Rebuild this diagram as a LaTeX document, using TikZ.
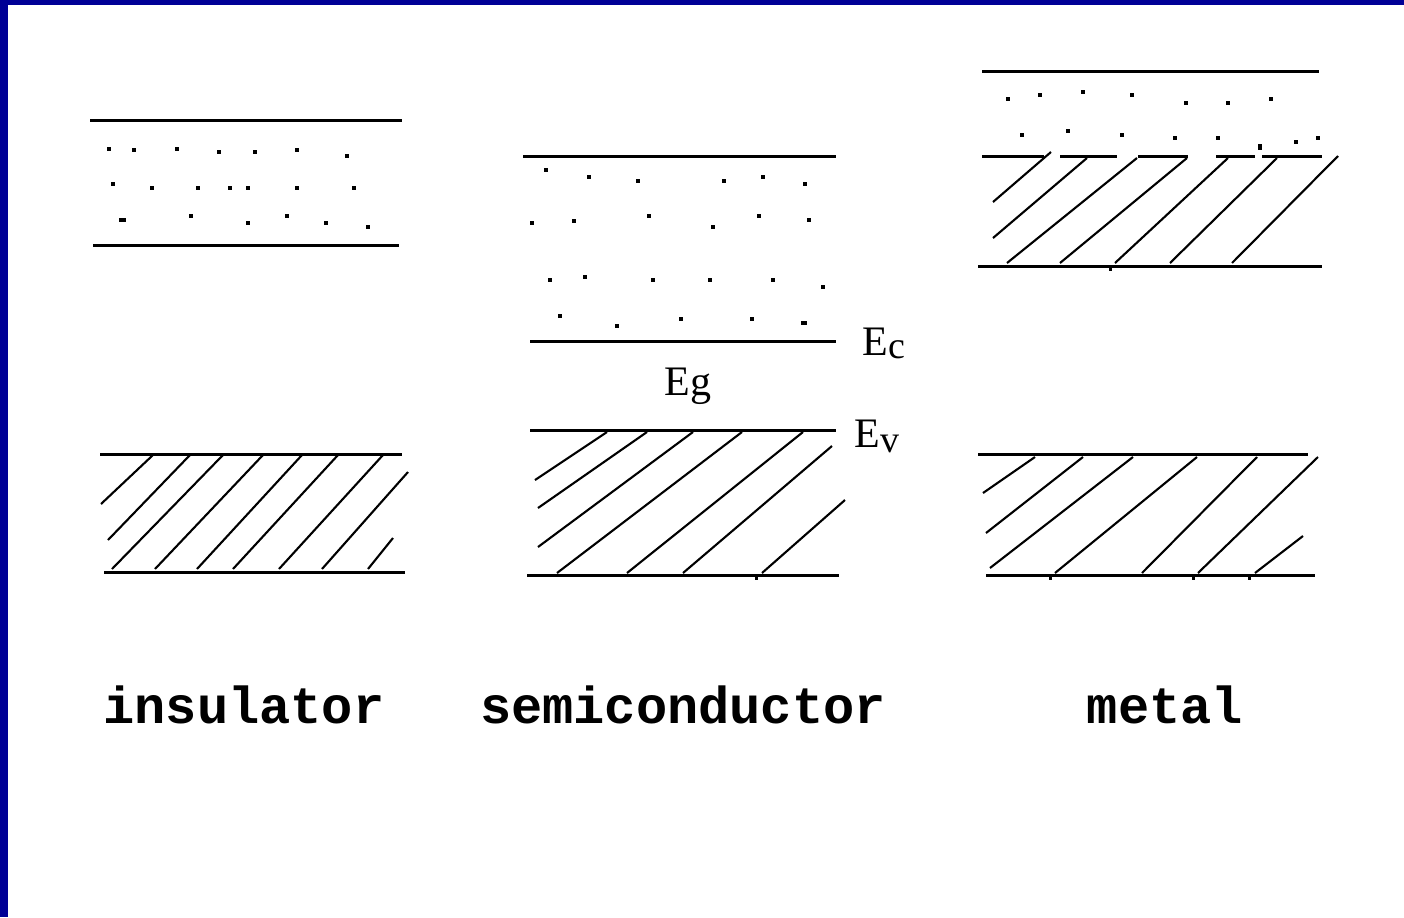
\documentclass[tikz,border=0pt]{standalone}
\usepackage{fontspec}
\setmainfont{Liberation Serif}
\newfontfamily\labelfont{Liberation Mono}
\definecolor{frameblue}{RGB}{0,0,150}
\tikzset{
  bandline/.style={line width=1.5pt, black},
  hatchline/.style={line width=1.05pt, black},
  dotsq/.style={fill=black},
  caption/.style={font=\labelfont\bfseries\fontsize{26}{30}\selectfont, anchor=base, inner sep=0pt},
  elabel/.style={font=\fontsize{21}{24}\selectfont, anchor=base west, inner sep=0pt}
}
\newcommand{\sqdots}[1]{\foreach \px/\py in {#1} {\fill[dotsq] (\px-1.6,\py-1.6) rectangle ++(3.4,3.4);}}
\begin{document}
\begin{tikzpicture}[x=0.5pt,y=-0.5pt]
\useasboundingbox (0,0) rectangle (1404,917);
\fill[white] (0,0) rectangle (1404,917);
\fill[frameblue] (0,0) rectangle (1404,5);
\fill[frameblue] (0,0) rectangle (8,917);

% ---------------- insulator ----------------
\draw[bandline] (90,120) -- (402,120);
\draw[bandline] (93,245) -- (399,245);
\sqdots{109/149,134/150,177/149,219/152,255/152,297/150,347/156,
113/184,152/188,198/188,230/188,248/188,297/188,354/188,
121/220,124/220,191/216,248/223,287/216,326/223,368/227}
\draw[bandline] (100,454) -- (402,454);
\draw[bandline] (104,572) -- (405,572);
\foreach \ax/\ay/\bx/\by in {101/504/153/455, 108/540/190/455, 112/569/223/455,
  155/569/263/455, 197/569/302/455, 233/569/338/455, 279/569/383/455,
  322/569/408/472, 368/569/393/538}
  {\draw[hatchline] (\ax,\ay) -- (\bx,\by);}

% ---------------- semiconductor ----------------
\draw[bandline] (523,156) -- (836,156);
\draw[bandline] (530,341) -- (836,341);
\sqdots{546/170,589/177,638/181,724/181,763/177,805/184,
532/223,574/221,649/216,713/227,759/216,809/220,
550/280,585/277,653/280,710/280,773/280,823/287,
560/316,617/326,681/319,752/319,803/323,805/323}
\draw[bandline] (530,430) -- (836,430);
\draw[bandline] (527,575) -- (839,575);
\foreach \ax/\ay/\bx/\by in {535/480/607/432, 538/508/647/432, 538/547/693/432,
  557/573/742/432, 627/573/803/432, 683/573/832/446, 762/573/845/500}
  {\draw[hatchline] (\ax,\ay) -- (\bx,\by);}
\fill (755,575) rectangle ++(2.5,5);
\node[elabel] (ec) at (862,355) {E\raisebox{-1.5pt}{\fontsize{19}{20}\selectfont c}};
\node[elabel] (eg) at (664,395) {Eg};
\node[elabel] (ev) at (854,447) {E\raisebox{-2.5pt}{\fontsize{19}{20}\selectfont v}};

% ---------------- metal ----------------
\draw[bandline] (982,71) -- (1319,71);
\foreach \ax/\bx in {982/1044, 1060/1117, 1138/1188, 1216/1255, 1262/1322}
  {\draw[bandline] (\ax,156) -- (\bx,156);}
\draw[bandline] (978,266) -- (1322,266);
\sqdots{1008/99,1040/95,1083/92,1132/95,1186/103,1228/103,1271/99,
1022/135,1068/131,1122/135,1175/138,1218/138,1260/146,1260/148,1296/142,1318/138}
\foreach \ax/\ay/\bx/\by in {993/202/1051/152, 993/238/1087/158, 1007/263/1137/158,
  1060/263/1187/158, 1115/263/1228/158, 1170/263/1277/158, 1232/263/1338/156}
  {\draw[hatchline] (\ax,\ay) -- (\bx,\by);}
\fill (1109,266) rectangle ++(2.5,5);
\draw[bandline] (978,454) -- (1308,454);
\draw[bandline] (986,575) -- (1315,575);
\foreach \ax/\ay/\bx/\by in {983/493/1035/457, 986/533/1083/457, 990/568/1133/457,
  1055/573/1197/457, 1142/573/1257/457, 1198/573/1318/457, 1255/573/1303/536}
  {\draw[hatchline] (\ax,\ay) -- (\bx,\by);}
\foreach \tx in {1049,1192,1248} {\fill (\tx,575) rectangle ++(2.5,5);}

% ---------------- captions ----------------
\node[caption] (ins) at (244,723) {insulator};
\node[caption] (semi) at (683,723) {semiconductor};
\node[caption] (met) at (1165,723) {metal};
\end{tikzpicture}
\end{document}
